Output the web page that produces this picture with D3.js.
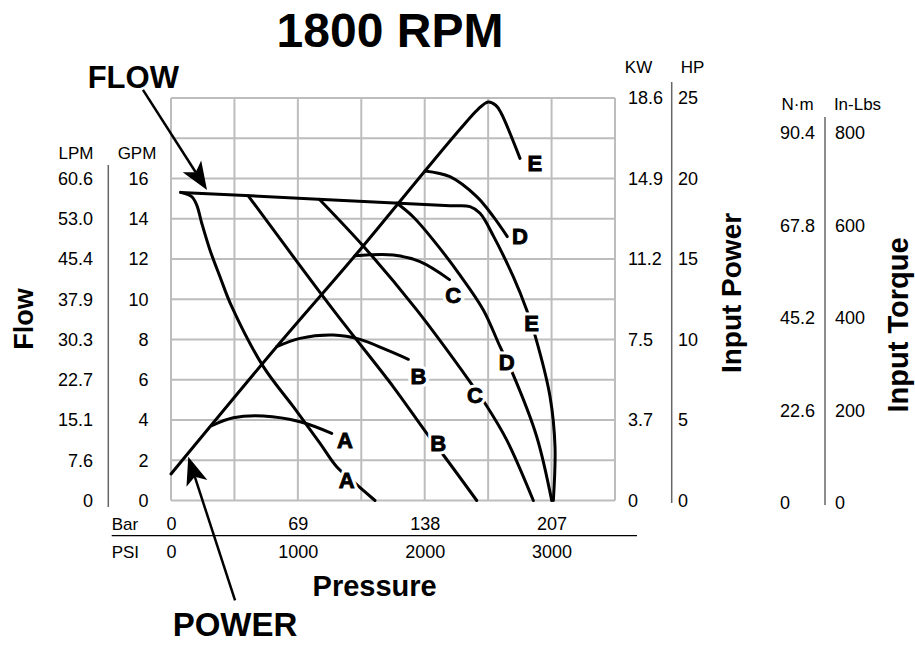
<html>
<head>
<meta charset="utf-8">
<!-- load d3 -->
<script src="https://d3js.org/d3.v7.min.js"></script>
<style>
  body { margin: 0; background: white; }
  text { font-family: "Liberation Sans", Arial, sans-serif; fill: black; }
  .grid line { stroke: #bdbdbd; stroke-width: 2; }
  .curve { fill: none; stroke: black; stroke-width: 3; stroke-linecap: round; stroke-linejoin: round; }
  .divider { stroke: #666; stroke-width: 1.5; }
</style>
</head>
<body>

<svg width="915" height="645"></svg>

<script>
// ---- tick values and labels ----
const gridPsi = [0, 500, 1000, 1500, 2000, 2500, 3000, 3500];
const gridGpm = [0, 2, 4, 6, 8, 10, 12, 14, 16, 18, 20];

const gpmTicks = [0, 2, 4, 6, 8, 10, 12, 14, 16];
const lpmLabels = ["0", "7.6", "15.1", "22.7", "30.3", "37.9", "45.4", "53.0", "60.6"];

const hpTicks = [0, 5, 10, 15, 20, 25];
const kwLabels = ["0", "3.7", "7.5", "11.2", "14.9", "18.6"];

const inlbTicks = [0, 200, 400, 600, 800];
const nmLabels = ["0", "22.6", "45.2", "67.8", "90.4"];

const psiTicks = [0, 1000, 2000, 3000];
const barLabels = ["0", "69", "138", "207"];

// ---- flow curves, [psi, gpm] ----
// E includes the flat top line
const flowE = [[76, 15.31], [2200, 14.65], [2357, 14.6], [2436, 14.27], [2544, 13.11], [2698, 11.12],
               [2804, 9.47], [2869, 8.22], [2988, 5.16], [3027, 2.67], [3014, 0]];
const flowA = [[76, 15.31], [163, 15.1], [203, 14.68], [242, 13.79], [307, 12.45], [386, 11.12],
               [479, 9.63], [728, 6.65], [964, 4.66], [1175, 2.84], [1306, 1.68],
               [1477, 0.72], [1608, 0]];
const flowB = [[609, 15.14], [1279, 9.47], [1752, 5.65], [2016, 3.34], [2147, 2.26], [2410, 0]];
const flowC = [[1169, 14.97], [1543, 12.45], [1937, 9.47], [2357, 5.9], [2475, 4.83], [2646, 3.01], [2856, 0]];
const flowD = [[1779, 14.78], [1908, 14.1], [2068, 12.94], [2278, 11.2], [2462, 9.47], [2594, 7.64],
               [2698, 6.24], [2883, 3.17], [3001, 0]];

// ---- input power curves, [psi, hp] ----
// E includes the main rising line
const powerE = [[0, 1.65], [833, 9.55], [1450, 15.2], [2002, 20.47], [2278, 23.06], [2420, 24.3],
                [2500, 24.75], [2560, 24.55], [2600, 24.1], [2751, 21.25]];
const powerA = [[321, 4.65], [491, 5.14], [728, 5.25], [1017, 4.89], [1267, 4.17]];
const powerB = [[833, 9.55], [1017, 10.07], [1279, 10.28], [1490, 10.01], [1700, 9.35], [1871, 8.77]];
const powerC = [[1450, 15.2], [1752, 15.25], [1963, 14.83], [2195, 13.72]];
const powerD = [[2002, 20.47], [2199, 20.11], [2410, 18.87], [2541, 17.63], [2651, 16.39]];

// curve letters and where they sit
const curveNames = ["A", "B", "C", "D", "E"];
const flowLabelPos = [[1385, 1.0], [2107, 2.85], [2396, 5.25], [2646, 6.9], [2843, 8.8]];
const powerLabelPos = [[1372, 3.75], [1950, 7.7], [2225, 12.75], [2751, 16.4], [2869, 20.95]];

// ---- scales ----
const x = d3.scaleLinear().domain([0, 3500]).range([171, 615]);
const yFlow = d3.scaleLinear().domain([0, 20]).range([500.5, 98]);
const yPower = d3.scaleLinear().domain([0, 25]).range([500.5, 98]);
const yTorque = d3.scaleLinear().domain([0, 800]).range([503, 133]);

const svg = d3.select("svg");
const font = "'Liberation Sans', Arial, sans-serif";

// title
svg.append("text").attr("x", 390).attr("y", 46.5).attr("text-anchor", "middle")
  .attr("font-size", 48).attr("font-weight", "bold").text("1800 RPM");

// grid
const grid = svg.append("g").attr("class", "grid");
grid.selectAll(".gv").data(gridPsi).enter().append("line").attr("class", "gv")
  .attr("x1", d => x(d)).attr("x2", d => x(d))
  .attr("y1", yFlow(20)).attr("y2", yFlow(0));
grid.selectAll(".gh").data(gridGpm).enter().append("line").attr("class", "gh")
  .attr("x1", x(0)).attr("x2", x(3500))
  .attr("y1", d => yFlow(d)).attr("y2", d => yFlow(d));

// helper to draw a number column with a d3 axis, no ticks or domain
function numAxis(axis, tx, ty) {
  const g = svg.append("g").attr("transform", "translate(" + tx + "," + ty + ")").call(axis);
  g.select(".domain").remove();
  g.attr("font-size", 18).attr("font-family", font);
  return g;
}

// left flow axes
numAxis(d3.axisLeft(yFlow).tickValues(gpmTicks).tickSize(0).tickPadding(0)
  .tickFormat((d, i) => lpmLabels[i]), 93, 0);
numAxis(d3.axisLeft(yFlow).tickValues(gpmTicks).tickSize(0).tickPadding(0), 148.5, 0);
svg.append("line").attr("class", "divider").attr("x1", 108.3).attr("x2", 108.3).attr("y1", 165).attr("y2", 507);
svg.append("text").attr("x", 76).attr("y", 159).attr("text-anchor", "middle").attr("font-size", 17).text("LPM");
svg.append("text").attr("x", 137).attr("y", 159).attr("text-anchor", "middle").attr("font-size", 17).text("GPM");
svg.append("text").attr("transform", "translate(33,319) rotate(-90)").attr("text-anchor", "middle")
  .attr("font-size", 27).attr("font-weight", "bold").text("Flow");

// right power axes
numAxis(d3.axisRight(yPower).tickValues(hpTicks).tickSize(0).tickPadding(0)
  .tickFormat((d, i) => kwLabels[i]), 628, 0);
numAxis(d3.axisRight(yPower).tickValues(hpTicks).tickSize(0).tickPadding(0), 678, 0);
svg.append("line").attr("class", "divider").attr("x1", 671.7).attr("x2", 671.7).attr("y1", 82).attr("y2", 503);
svg.append("text").attr("x", 638.5).attr("y", 73).attr("text-anchor", "middle").attr("font-size", 17).text("KW");
svg.append("text").attr("x", 692.5).attr("y", 73).attr("text-anchor", "middle").attr("font-size", 17).text("HP");
svg.append("text").attr("transform", "translate(741,293) rotate(-90)").attr("text-anchor", "middle")
  .attr("font-size", 28).attr("font-weight", "bold").text("Input Power");

// torque axes
numAxis(d3.axisRight(yTorque).tickValues(inlbTicks).tickSize(0).tickPadding(0)
  .tickFormat((d, i) => nmLabels[i]), 780, 0);
numAxis(d3.axisRight(yTorque).tickValues(inlbTicks).tickSize(0).tickPadding(0), 835, 0);
svg.append("line").attr("class", "divider").attr("x1", 825).attr("x2", 825).attr("y1", 117).attr("y2", 505);
svg.append("text").attr("x", 797.5).attr("y", 110).attr("text-anchor", "middle").attr("font-size", 17).text("N·m");
svg.append("text").attr("x", 857.5).attr("y", 110).attr("text-anchor", "middle").attr("font-size", 17).text("In-Lbs");
svg.append("text").attr("transform", "translate(908,325) rotate(-90)").attr("text-anchor", "middle")
  .attr("font-size", 29).attr("font-weight", "bold").text("Input Torque");

// pressure axes (bar row and psi row)
const barAxis = numAxis(d3.axisBottom(x).tickValues(psiTicks).tickSize(0).tickPadding(0)
  .tickFormat((d, i) => barLabels[i]), 0, 530);
const psiAxis = numAxis(d3.axisBottom(x).tickValues(psiTicks).tickSize(0).tickPadding(0)
  .tickFormat(d3.format("d")), 0, 558);
barAxis.selectAll("text").attr("y", 0).attr("dy", 0);
psiAxis.selectAll("text").attr("y", 0).attr("dy", 0);
svg.append("text").attr("x", 111.7).attr("y", 530).attr("font-size", 17).text("Bar");
svg.append("text").attr("x", 111.7).attr("y", 558).attr("font-size", 17).text("PSI");
svg.append("line").attr("x1", 111.7).attr("x2", 637).attr("y1", 535.7).attr("y2", 535.7)
  .attr("stroke", "black").attr("stroke-width", 1.3);
svg.append("text").attr("x", 374.7).attr("y", 596).attr("text-anchor", "middle")
  .attr("font-size", 29).attr("font-weight", "bold").text("Pressure");

// curves
const flowLine = d3.line().x(d => x(d[0])).y(d => yFlow(d[1])).curve(d3.curveCatmullRom.alpha(0.5));
const powerLine = d3.line().x(d => x(d[0])).y(d => yPower(d[1])).curve(d3.curveCatmullRom.alpha(0.5));

const curves = svg.append("g");
[flowA, flowB, flowC, flowD, flowE].forEach(function(c) {
  curves.append("path").attr("class", "curve").attr("d", flowLine(c));
});
[powerA, powerB, powerC, powerD, powerE].forEach(function(c) {
  curves.append("path").attr("class", "curve").attr("d", powerLine(c));
});

// curve letters, white halo first so the lines break around them
function letters(pos, ys) {
  const g = svg.append("g").attr("font-size", 22).attr("font-weight", "bold").attr("text-anchor", "middle");
  g.selectAll(".halo").data(pos).enter().append("text").attr("class", "halo")
    .attr("x", d => x(d[0])).attr("y", d => ys(d[1])).attr("dy", "0.36em")
    .attr("stroke", "white").attr("stroke-width", 7).style("fill", "white")
    .text((d, i) => curveNames[i]);
  g.selectAll(".lbl").data(pos).enter().append("text").attr("class", "lbl")
    .attr("x", d => x(d[0])).attr("y", d => ys(d[1])).attr("dy", "0.36em")
    .attr("stroke", "black").attr("stroke-width", 0.9)
    .text((d, i) => curveNames[i]);
}
letters(flowLabelPos, yFlow);
letters(powerLabelPos, yPower);

// callout arrows
function arrow(x1, y1, x2, y2) {
  const dx = x2 - x1, dy = y2 - y1, len = Math.sqrt(dx * dx + dy * dy);
  const ux = dx / len, uy = dy / len;
  const L = 28, W = 11, N = 21;
  svg.append("line").attr("x1", x1).attr("y1", y1)
    .attr("x2", x2 - ux * N).attr("y2", y2 - uy * N)
    .attr("stroke", "black").attr("stroke-width", 2.5);
  const pts = [
    [x2, y2],
    [x2 - ux * L - uy * W, y2 - uy * L + ux * W],
    [x2 - ux * N, y2 - uy * N],
    [x2 - ux * L + uy * W, y2 - uy * L - ux * W]
  ];
  svg.append("path").attr("d", "M" + pts.join("L") + "Z").attr("fill", "black");
}
arrow(x(-221), yFlow(20.4), x(284), yFlow(15.43));
arrow(x(505), yPower(-6.2), x(136), yPower(2.72));

svg.append("text").attr("x", 133.3).attr("y", 88).attr("text-anchor", "middle")
  .attr("font-size", 31).attr("font-weight", "bold").text("FLOW");
svg.append("text").attr("x", 235).attr("y", 636).attr("text-anchor", "middle")
  .attr("font-size", 33).attr("font-weight", "bold").text("POWER");
</script>
</body>
</html>
